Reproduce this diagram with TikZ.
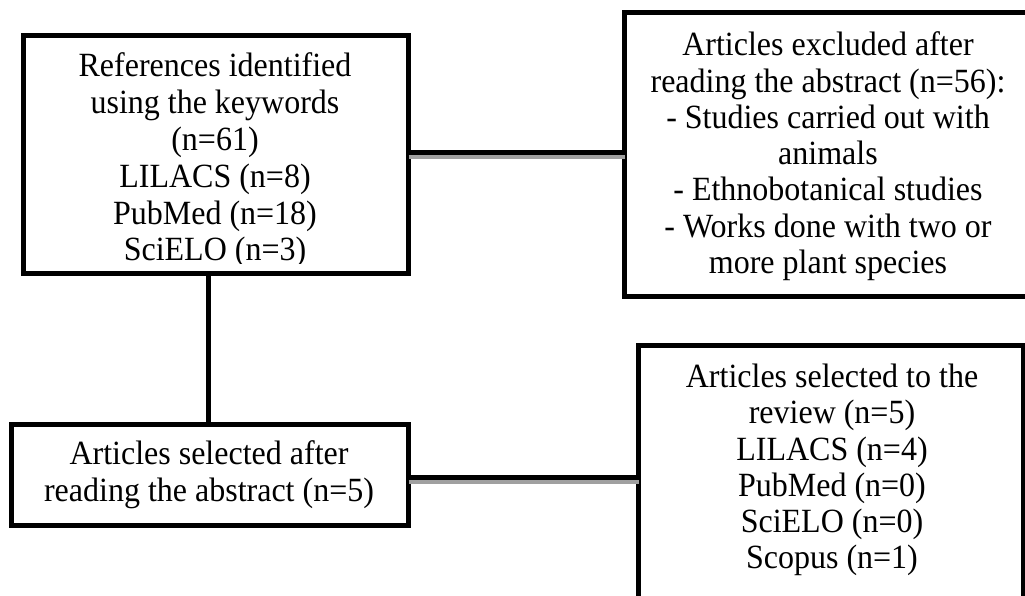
\documentclass[tikz,border=0pt]{standalone}
\usepackage{fontspec}
\setmainfont{Liberation Serif}
\definecolor{shade}{RGB}{160,160,160}
\tikzset{
  box/.style={draw=black, line width=5pt, fill=none, rectangle, inner sep=0pt, outer sep=0pt},
  txt/.style={align=center, inner sep=0pt, outer sep=0pt, yscale=1.06, transform shape, font=\fontsize{32}{34.2}\selectfont},
  conn/.style={draw=black, line width=5pt},
  connshade/.style={draw=shade, line width=4pt}
}
\begin{document}
\begin{tikzpicture}[x=1pt,y=-1pt]
\useasboundingbox (0,0) rectangle (1025,596);
\clip (0,0) rectangle (1025,596);
\fill[white] (0,0) rectangle (1025,596);

% boxes
\node[box, minimum width=385pt, minimum height=238pt] (b1) at (216,154.5) {};
\node[box, minimum width=410.5pt, minimum height=283.5pt] (b2) at (829.75,154.25) {};
\node[box, minimum width=397pt, minimum height=101.5pt] (b3) at (210,474.75) {};
\node[box, minimum width=384.5pt, minimum height=260pt] (b4) at (830.75,475) {};

% texts
\begin{scope}
\clip (20,30) rectangle (410,263);
\node[txt, font=\fontsize{32}{34.7}\selectfont] (t1) at (215,160.5) {References identified\\using the keywords\\(n=61)\\LILACS (n=8)\\PubMed (n=18)\\SciELO (n=3)};
\end{scope}
\node[txt] (t2) at (828,156.3) {Articles excluded after\\reading the abstract (n=56):\\- Studies carried out with\\animals\\- Ethnobotanical studies\\- Works done with two or\\more plant species};
\node[txt] (t3) at (209,474.8) {Articles selected after\\reading the abstract (n=5)};
\node[txt] (t4) at (832,470.2) {Articles selected to the\\review (n=5)\\LILACS (n=4)\\PubMed (n=0)\\SciELO (n=0)\\Scopus (n=1)};

% connectors
\draw[connshade] ([yshift=-2.8pt]b1.east) -- ([yshift=-2.8pt]b1.east -| b2.west);
\draw[conn] ([yshift=2pt]b1.east) -- ([yshift=2pt]b1.east -| b2.west);
\draw[conn] ([xshift=-7.5pt]b1.south) -- ([xshift=-7.5pt]b1.south |- b3.north);
\draw[connshade] ([yshift=-7.25pt]b3.east) -- ([yshift=-7.25pt]b3.east -| b4.west);
\draw[conn] ([yshift=-2.25pt]b3.east) -- ([yshift=-2.25pt]b3.east -| b4.west);
\end{tikzpicture}
\end{document}
